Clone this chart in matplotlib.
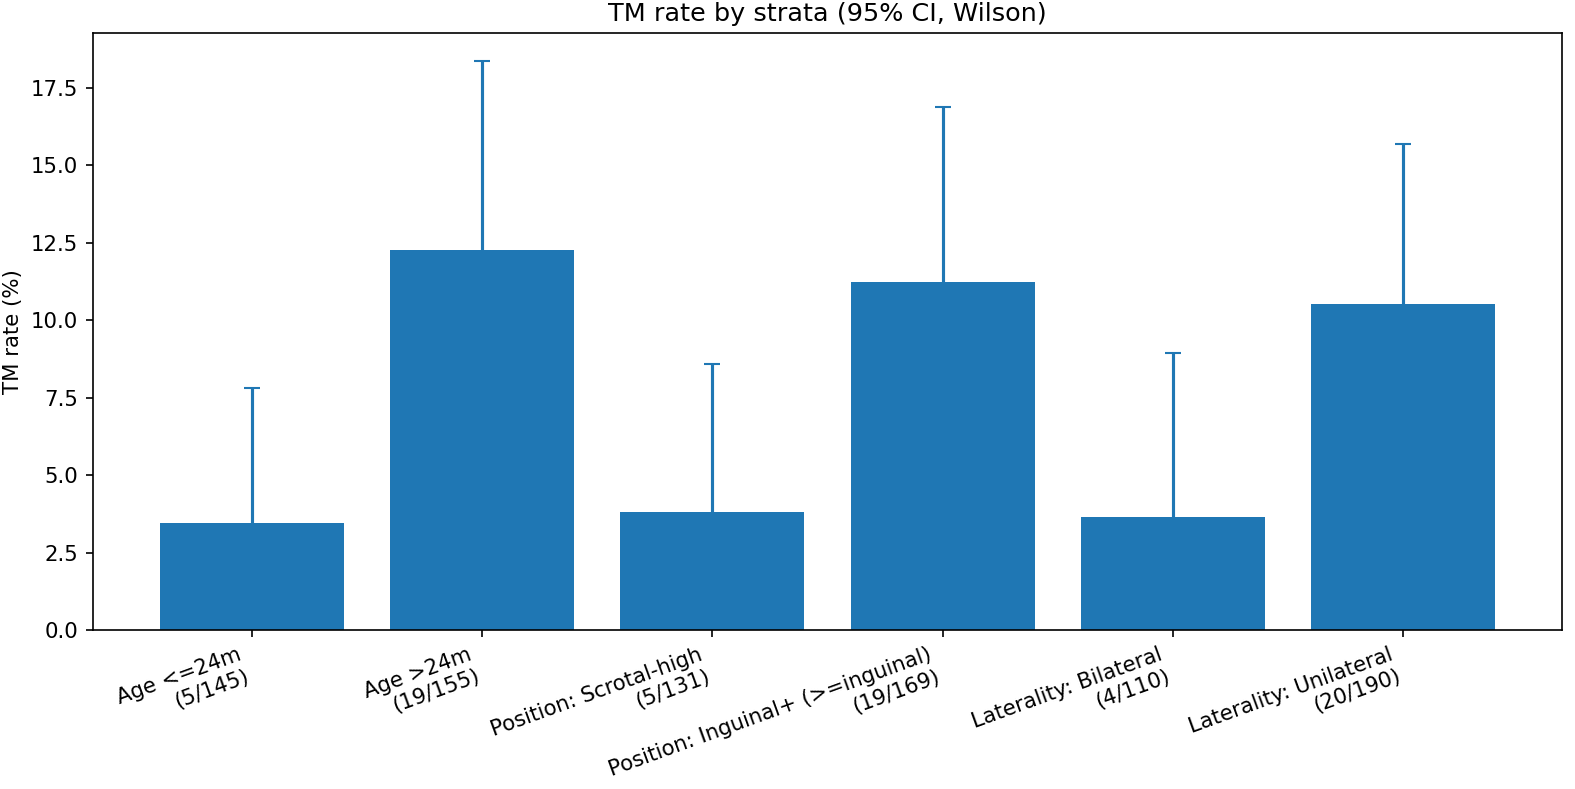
import matplotlib
matplotlib.use("Agg")
import matplotlib.pyplot as plt
import numpy as np

labels = ["Age <=24m\n(5/145)", "Age >24m\n(19/155)", "Position: Scrotal-high\n(5/131)",
          "Position: Inguinal+ (>=inguinal)\n(19/169)", "Laterality: Bilateral\n(4/110)",
          "Laterality: Unilateral\n(20/190)"]
rates = [3.45, 12.26, 3.82, 11.24, 3.64, 10.53]
lower_ci = [1.48, 8.00, 1.64, 7.32, 1.42, 6.90]
upper_ci = [7.80, 18.35, 8.60, 16.88, 8.95, 15.70]

plt.rcParams["font.size"] = 10.2
fig, ax = plt.subplots(figsize=(10.5, 5.26), dpi=150)
x = np.arange(len(labels))
err_low = [r - l for r, l in zip(rates, lower_ci)]
err_up = [u - r for u, r in zip(upper_ci, rates)]
ax.bar(x, rates, yerr=[err_low, err_up], capsize=4, color="#1f77b4", ecolor="#1f77b4")
ax.set_xticks(x)
ax.set_xticklabels(labels, rotation=20, ha="right")
ax.set_ylabel("TM rate (%)")
ax.set_title("TM rate by strata (95% CI, Wilson)")
fig.subplots_adjust(left=93/1575, right=1562/1575, top=1-33/789, bottom=1-630/789)
fig.savefig("out.png", dpi=150)
